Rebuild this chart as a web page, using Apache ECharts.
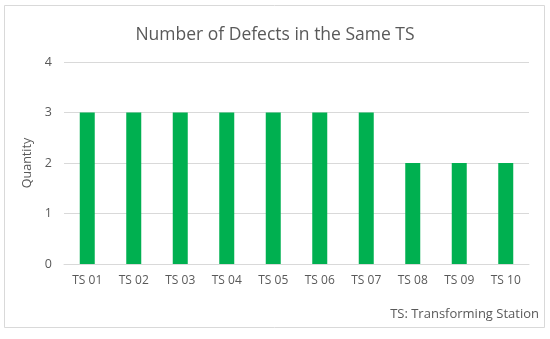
<!DOCTYPE html>
<html><head><meta charset="utf-8">
<script src="https://cdn.jsdelivr.net/npm/echarts@6/dist/echarts.min.js"></script>
<style>html,body{margin:0;padding:0;background:#fff}#c{width:550px;height:339px}</style>
</head><body><div id="c"></div>
<script>
const categories = ['TS 01','TS 02','TS 03','TS 04','TS 05','TS 06','TS 07','TS 08','TS 09','TS 10'];
const quantities = [3,3,3,3,3,3,3,2,2,2];
const titleText = 'Number of Defects in the Same TS';
const noteText = 'TS: Transforming Station';
const yAxisName = 'Quantity';
const FONT = 'Open Sans';
const chart = echarts.init(document.getElementById('c'), null, {renderer:'canvas'});
chart.setOption({
  animation:false,
  backgroundColor:'#fff',
  title:{text:titleText,left:'center',top:21,textStyle:{fontFamily:FONT,fontSize:17.5,fontWeight:'normal',color:'#595959'}},
  graphic:[
    {type:'rect',shape:{x:4.5,y:5.5,width:540,height:322},style:{fill:'none',stroke:'#d9d9d9',lineWidth:1}},
    {type:'text',right:11,top:308,style:{text:noteText,font:'13px "'+FONT+'"',fill:'#595959'}}
  ],
  grid:{left:64,right:21,top:62,bottom:75},
  xAxis:{type:'category',data:categories,
    axisLine:{lineStyle:{color:'#d9d9d9'}},axisTick:{show:false},
    axisLabel:{color:'#595959',fontFamily:FONT,fontSize:12,margin:11}},
  yAxis:{type:'value',min:0,max:4,interval:1,name:yAxisName,nameLocation:'middle',nameGap:26,
    nameTextStyle:{color:'#595959',fontFamily:FONT,fontSize:12.5},
    axisLine:{show:false},axisTick:{show:false},
    axisLabel:{color:'#595959',fontFamily:FONT,fontSize:12.5,margin:12},
    splitLine:{lineStyle:{color:'#d9d9d9'}}},
  series:[{type:'bar',data:quantities,barWidth:15,itemStyle:{color:'#00b050'}}]
});
</script></body></html>
